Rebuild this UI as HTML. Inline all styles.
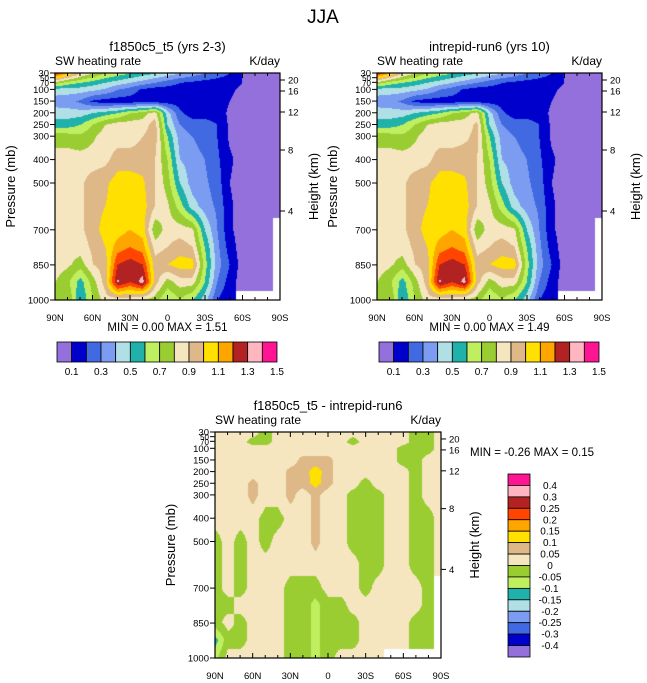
<!DOCTYPE html>
<html><head><meta charset="utf-8"><style>
body{margin:0;background:#fff;width:647px;height:683px;overflow:hidden;position:relative;font-family:"Liberation Sans",sans-serif}
canvas{position:absolute}
svg{position:absolute;left:0;top:0}
</style></head><body>
<canvas id="c1" style="left:55px;top:73px" width="225" height="227"></canvas>
<canvas id="c2" style="left:377px;top:73px" width="225" height="227"></canvas>
<canvas id="c3" style="left:215px;top:432px" width="226" height="226"></canvas>
<svg id="s" width="647" height="683"></svg>
<script>
const lats=["90N","80N","70N","60N","50N","40N","30N","20N","10N","0","10S","20S","30S","40S","50S","60S","70S","80S","90S"];
const plevs=[30,70,100,150,200,250,300,400,500,600,700,775,850,925,1000];
const pTicks=[30,50,70,100,150,200,250,300,400,500,700,850,1000];
const hTicks=[[20,80],[16,91],[12,112],[8,150],[4,211]];
const latTicks=["90N","60N","30N","0","30S","60S","90S"];
const N=null;
// rows = pressure levels, columns = latitudes
const f1=[
[1.3,1.1,0.9,0.8,0.7,0.65,0.6,0.55,0.5,0.45,0.4,0.35,0.3,0.25,0.2,0.1,0.05,0.05,0.05],
[0.75,0.65,0.6,0.55,0.5,0.45,0.4,0.35,0.3,0.25,0.2,0.18,0.16,0.15,0.15,0.1,0.05,0.05,0.05],
[0.45,0.45,0.45,0.42,0.38,0.3,0.25,0.18,0.15,0.15,0.15,0.15,0.15,0.15,0.12,0.08,0.05,0.05,0.05],
[0.35,0.33,0.28,0.18,0.15,0.15,0.15,0.15,0.15,0.15,0.15,0.15,0.15,0.15,0.1,0.05,0.05,0.05,0.05],
[0.45,0.45,0.45,0.5,0.55,0.6,0.7,0.75,0.85,0.45,0.22,0.15,0.15,0.15,0.08,0.05,0.05,0.05,0.05],
[0.55,0.55,0.6,0.7,0.8,0.85,0.85,0.85,0.95,0.5,0.3,0.25,0.25,0.2,0.08,0.05,0.05,0.05,0.05],
[0.75,0.75,0.72,0.78,0.85,0.85,0.85,0.9,0.95,0.6,0.35,0.3,0.25,0.2,0.08,0.05,0.05,0.05,0.05],
[0.85,0.85,0.85,0.85,0.87,0.95,0.95,0.95,0.9,0.7,0.4,0.35,0.3,0.22,0.12,0.05,0.05,0.05,0.05],
[0.85,0.85,0.88,0.95,0.98,1.05,1.05,1.02,0.9,0.75,0.5,0.35,0.32,0.25,0.1,0.05,0.05,0.05,0.05],
[0.85,0.85,0.88,0.95,1.0,1.05,1.05,1.05,0.9,0.82,0.65,0.45,0.35,0.28,0.12,0.05,0.05,0.05,0.05],
[0.85,0.85,0.88,0.95,1.05,1.05,1.1,1.05,0.72,0.85,0.85,0.82,0.5,0.3,0.12,0.05,0.05,0.05,N],
[0.85,0.85,0.85,0.92,1.0,1.15,1.2,1.15,0.85,0.9,0.95,0.9,0.6,0.33,0.15,0.05,0.05,0.05,N],
[0.85,0.82,0.75,0.9,0.95,1.3,1.35,1.3,0.95,1.0,1.05,1.05,0.65,0.35,0.2,0.05,0.05,0.05,N],
[0.8,0.72,0.55,0.75,0.95,1.42,1.3,1.45,0.95,0.75,0.85,0.85,0.6,0.3,0.15,0.05,0.05,0.05,N],
[0.75,0.8,0.5,0.7,0.85,0.85,0.85,0.8,0.75,0.6,0.7,0.6,0.45,0.2,0.12,N,N,N,N]];
const f2=[
[1.3,1.1,0.9,0.8,0.7,0.65,0.6,0.55,0.5,0.45,0.4,0.35,0.3,0.25,0.2,0.1,0.05,0.05,0.05],
[0.75,0.65,0.6,0.55,0.5,0.45,0.4,0.35,0.3,0.25,0.2,0.18,0.16,0.15,0.15,0.1,0.05,0.05,0.05],
[0.45,0.45,0.45,0.42,0.38,0.3,0.25,0.18,0.15,0.15,0.15,0.15,0.15,0.15,0.12,0.08,0.05,0.05,0.05],
[0.35,0.33,0.28,0.18,0.15,0.15,0.15,0.15,0.15,0.15,0.15,0.15,0.15,0.15,0.1,0.05,0.05,0.05,0.05],
[0.45,0.45,0.45,0.5,0.55,0.6,0.7,0.75,0.84,0.45,0.22,0.15,0.15,0.15,0.08,0.05,0.05,0.05,0.05],
[0.55,0.55,0.6,0.7,0.8,0.85,0.85,0.85,0.92,0.5,0.3,0.25,0.25,0.2,0.08,0.05,0.05,0.05,0.05],
[0.75,0.75,0.72,0.78,0.85,0.85,0.85,0.88,0.93,0.6,0.35,0.3,0.25,0.2,0.08,0.05,0.05,0.05,0.05],
[0.85,0.85,0.85,0.85,0.87,0.95,0.95,0.95,0.9,0.7,0.4,0.35,0.3,0.22,0.12,0.05,0.05,0.05,0.05],
[0.85,0.85,0.88,0.95,0.98,1.05,1.05,1.02,0.9,0.75,0.5,0.35,0.32,0.25,0.1,0.05,0.05,0.05,0.05],
[0.85,0.85,0.88,0.95,1.0,1.05,1.05,1.05,0.9,0.82,0.65,0.45,0.35,0.28,0.12,0.05,0.05,0.05,0.05],
[0.85,0.85,0.88,0.95,1.05,1.05,1.1,1.05,0.72,0.85,0.85,0.82,0.5,0.3,0.12,0.05,0.05,0.05,N],
[0.85,0.85,0.85,0.92,1.0,1.15,1.2,1.15,0.85,0.9,0.95,0.9,0.6,0.33,0.15,0.05,0.05,0.05,N],
[0.85,0.82,0.75,0.9,0.95,1.3,1.35,1.3,0.95,1.0,1.05,1.05,0.65,0.35,0.2,0.05,0.05,0.05,N],
[0.8,0.72,0.55,0.75,0.95,1.42,1.3,1.44,0.95,0.75,0.85,0.85,0.6,0.3,0.15,0.05,0.05,0.05,N],
[0.75,0.8,0.5,0.7,0.85,0.85,0.85,0.8,0.75,0.6,0.7,0.6,0.45,0.2,0.12,N,N,N,N]];
const fd=[
[.02,.02,.02,.02,-.02,.02,.02,.02,.02,.02,.02,.02,.02,.02,.02,.02,-.02,-.02,.02],
[.02,.02,.02,-.02,-.02,.02,.02,.02,.02,.02,.02,-.02,.02,.02,.02,.02,-.02,-.02,.02],
[.02,.02,.02,.02,.02,.02,.02,.02,.02,.02,.02,.02,.02,.02,.02,-.02,-.02,-.02,.02],
[.02,.02,.02,.02,.02,.02,.02,.07,.07,.07,.02,.02,.02,.02,.02,-.02,-.02,.02,.02],
[.02,.02,.02,.02,.02,.02,.07,.07,.13,.07,.02,.02,.02,.02,.02,.02,-.02,.02,.02],
[.02,.02,.02,.07,.02,.02,.07,.07,.12,.07,.02,.02,-.02,.02,.02,.02,-.02,.02,.02],
[.02,.02,.02,.07,.02,.02,.07,.02,.07,.02,.02,-.02,-.02,-.02,.02,.02,-.02,.02,.02],
[.02,.02,.02,.02,-.02,-.02,.02,.02,.07,.02,.02,-.02,-.02,-.02,.02,.02,-.02,-.02,.02],
[-.02,.02,-.02,.02,-.02,.02,.02,.02,.07,.02,.02,-.02,-.02,-.02,.02,.02,-.02,-.02,.02],
[-.02,.02,-.02,.02,.02,.02,.02,.02,.02,.02,.02,.02,-.02,-.02,.02,.02,-.02,-.02,.02],
[-.02,.02,-.02,.02,.02,.02,-.02,-.02,-.02,.02,.02,.02,-.02,.02,.02,.02,.02,-.02,N],
[-.02,-.02,.02,.02,.02,.02,-.02,-.02,-.07,-.02,-.02,.02,.02,.02,.02,.02,.02,-.02,N],
[-.02,.02,-.02,.02,.02,.02,-.02,-.02,-.07,-.02,-.02,-.02,.02,.02,.02,.02,-.02,-.02,N],
[-.12,-.02,-.02,.02,.02,.02,-.02,-.02,-.07,-.02,-.02,-.02,.02,.02,.02,.02,-.02,-.02,N],
[-.07,.02,.02,.02,.02,.02,-.02,-.02,-.07,-.02,.02,.02,.02,.02,N,N,N,N,N]];
const colors=["#9370db","#0000cd","#4169e1","#7b9cf0","#b0e0e6","#20b2aa","#bfef5f","#9acd32","#f5e6c0","#deb887","#ffe000","#ffa500","#ff4500","#b22222","#ffb6c1","#ff1493"];
const levA=[0.1,0.2,0.3,0.4,0.5,0.6,0.7,0.8,0.9,1.0,1.1,1.2,1.3,1.4,1.5];
const levD=[-0.4,-0.3,-0.25,-0.2,-0.15,-0.1,-0.05,0,0.05,0.1,0.15,0.2,0.25,0.3,0.4];
const labA=["0.1","0.3","0.5","0.7","0.9","1.1","1.3","1.5"];
const labD=["-0.4","-0.3","-0.25","-0.2","-0.15","-0.1","-0.05","0","0.05","0.1","0.15","0.2","0.25","0.3","0.4"];
function hex(c){return [parseInt(c.substr(1,2),16),parseInt(c.substr(3,2),16),parseInt(c.substr(5,2),16)];}
const rgb=colors.map(hex);
function render(id,f,lev){
 const cv=document.getElementById(id),ctx=cv.getContext('2d'),W=cv.width,H=cv.height;
 const img=ctx.createImageData(W,H);
 for(let y=0;y<H;y++){
  const p=30+(1000-30)*y/(H-1);
  let k=0;while(k<plevs.length-2&&plevs[k+1]<p)k++;
  const ty=(p-plevs[k])/(plevs[k+1]-plevs[k]);
  for(let x=0;x<W;x++){
   const lf=x/(W-1)*(lats.length-1);let i=Math.min(Math.floor(lf),lats.length-2);const tx=lf-i;
   const ni=tx<0.5?i:i+1,nk=ty<0.5?k:k+1;
   let o=(y*W+x)*4;
   if(f[nk][ni]===null){img.data[o]=255;img.data[o+1]=255;img.data[o+2]=255;img.data[o+3]=255;continue;}
   const g=(a,b)=>{const v=f[b][a];return v===null?f[nk][ni]:v;};
   const v=(1-tx)*(1-ty)*g(i,k)+tx*(1-ty)*g(i+1,k)+(1-tx)*ty*g(i,k+1)+tx*ty*g(i+1,k+1);
   let c=0;while(c<lev.length&&v>=lev[c])c++;
   const col=rgb[c];img.data[o]=col[0];img.data[o+1]=col[1];img.data[o+2]=col[2];img.data[o+3]=255;
  }}
 ctx.putImageData(img,0,0);
}
render('c1',f1,levA);render('c2',f2,levA);render('c3',fd,levD);
const S=document.getElementById('s'),NS='http://www.w3.org/2000/svg';
function el(t,a,txt){const e=document.createElementNS(NS,t);for(const k in a)e.setAttribute(k,a[k]);if(txt!==undefined)e.textContent=txt;S.appendChild(e);return e;}
function txt(x,y,s,size,anchor,name,rot){const e=el('text',{x:x,y:y,'font-size':size,'text-anchor':anchor||'middle',fill:'#000'},s);
 if(rot)e.setAttribute('transform','rotate(-90 '+x+' '+y+')');
 
 return e;}
txt(323,23,"JJA",19,'middle','main-title');
function panel(x0,y0,W,H,title,mm,pre){
 txt(x0+W/2,y0-22,title,13,'middle',pre+'-title');
 txt(x0,y0-8,"SW heating rate",12,'start',pre+'-left-subtitle');
 txt(x0+W,y0-8,"K/day",12,'end',pre+'-units');
 const r=el('rect',{x:x0,y:y0,width:W,height:H,fill:'none',stroke:'#000','stroke-width':1.2});
 
 
 const py=p=>y0+(p-30)/(970)*H;
 pTicks.forEach(p=>{el('line',{x1:x0-5,x2:x0,y1:py(p),y2:py(p),stroke:'#000'});
  const t=txt(x0-6,py(p)+3.5,String(p),9.5,'end',pre+'-y-tick-label');if(p===50||p===70)t.setAttribute('font-size',8);});
 hTicks.forEach(h=>{const yy=y0+(h[1]-73)*H/227;el('line',{x1:x0+W,x2:x0+W+5,y1:yy,y2:yy,stroke:'#000'});
  txt(x0+W+8,yy+3.5,String(h[0]),9.5,'start',pre+'-height-tick-label');});
 for(let i=0;i<=18;i++){const xx=x0+i*W/18,len=i%3===0?5:3;
  el('line',{x1:xx,x2:xx,y1:y0,y2:y0+len,stroke:'#000'});el('line',{x1:xx,x2:xx,y1:y0+H,y2:y0+H-len,stroke:'#000'});}
 latTicks.forEach((l,i)=>txt(x0+i*W/6,y0+H+21,l,9.5,'middle',pre+'-x-tick-label'));
 txt(x0-40,y0+H/2,"Pressure (mb)",13,'middle',pre+'-y-axis-title',true);
 txt(x0+W+38,y0+H/2,"Height (km)",13,'middle',pre+'-height-axis-title',true);
 if(mm)txt(x0+W/2,y0+H+31,mm,11.5,'middle',pre+'-min-max');
}
panel(55,73,225,227,"f1850c5_t5 (yrs 2-3)","MIN =   0.00  MAX =   1.51","left");
panel(377,73,225,227,"intrepid-run6 (yrs 10)","MIN =   0.00  MAX =   1.49","right");
panel(215,432,226,226,"f1850c5_t5 - intrepid-run6",null,"diff");
txt(470,456,"MIN =  -0.26  MAX =   0.15",11.5,'start','diff-min-max');
const topCols=[0,1,2,3,4,5,6,7,8,9,10,11,13,14,15];
function hbar2(x0,pre){const bw=220/15;
 topCols.forEach((c,i)=>{const r=el('rect',{x:x0+i*bw,y:342,width:bw,height:20,fill:colors[c],stroke:'#000','stroke-width':0.8});
  
  });
 labA.forEach((l,j)=>txt(x0+(2*j+1)*bw,375,l,10,'middle',pre+'-colorbar-label'));}
hbar2(57,'left');hbar2(379,'right');
const bh=183/16;
for(let i=0;i<16;i++){const r=el('rect',{x:508,y:474+i*bh,width:22,height:bh,fill:colors[15-i],stroke:'#000','stroke-width':0.8});
 
 }
labD.slice().reverse().forEach((l,j)=>txt(550,474+(j+1)*bh+3.5,l,10,'middle','diff-colorbar-label'));
</script>
</body></html>
